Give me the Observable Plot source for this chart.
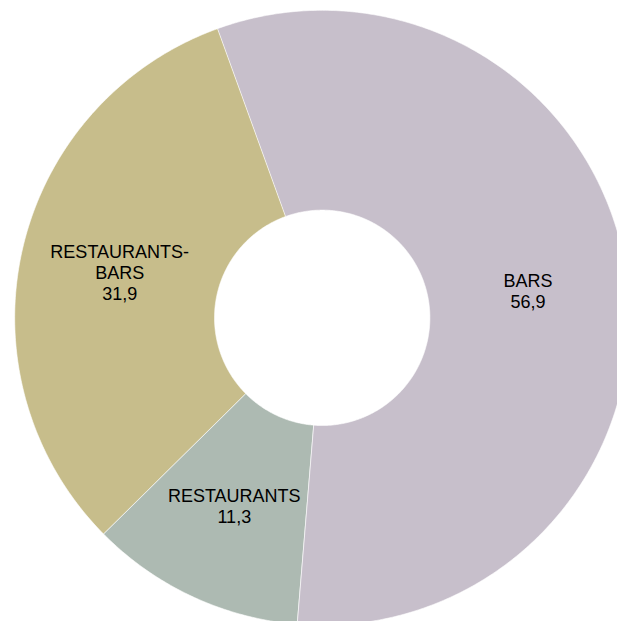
<!DOCTYPE html>
<html>
<head>
<meta charset="utf-8">
<script src="https://cdn.jsdelivr.net/npm/d3@7"></script>
<script src="https://cdn.jsdelivr.net/npm/@observablehq/plot@0.6"></script>
<style>
  html, body { margin: 0; padding: 0; background: #fff; }
  #chart svg { display: block; }
</style>
</head>
<body>
<div id="chart"></div>
<script>
// Data
const categories = ["BARS", "RESTAURANTS", "RESTAURANTS-BARS"];
const labels = ["BARS", "RESTAURANTS", "RESTAURANTS-\nBARS"];
const values = [56.9, 11.3, 31.9];
const colors = ["#c7bfcb", "#adbab2", "#c7bd8b"];

// Layout
const W = 617, H = 621;
const cx = 321.7, cy = 317.3;
const rOuter = 307.5, rInner = 107.7;
const startDeg = -19.9;

const pie = d3.pie().sort(null).value(d => d.value)
  .startAngle(startDeg * Math.PI / 180)
  .endAngle((startDeg + 360) * Math.PI / 180);
const arcs = pie(categories.map((c, i) => ({category: c, label: labels[i], value: values[i]})));

const pt = (r, a) => [cx + r * Math.sin(a), cy - r * Math.cos(a)];

const polys = [];
for (const a of arcs) {
  const n = Math.max(8, Math.ceil((a.endAngle - a.startAngle) / (Math.PI / 360)));
  for (let k = 0; k <= n; k++) {
    const t = a.startAngle + (a.endAngle - a.startAngle) * k / n;
    const [x, y] = pt(rOuter, t);
    polys.push({category: a.data.category, x, y});
  }
  for (let k = n; k >= 0; k--) {
    const t = a.startAngle + (a.endAngle - a.startAngle) * k / n;
    const [x, y] = pt(rInner, t);
    polys.push({category: a.data.category, x, y});
  }
}

const labelData = arcs.map(a => {
  const m = (a.startAngle + a.endAngle) / 2;
  const [x, y] = pt((rOuter + rInner) / 2, m);
  return {x, y, text: a.data.label + "\n" + a.data.value.toFixed(1).replace(".", ",")};
});

const chart = Plot.plot({
  width: W,
  height: H,
  margin: 0,
  x: {type: "identity", axis: null},
  y: {type: "identity", axis: null},
  color: {domain: categories, range: colors},
  style: {fontFamily: "'Liberation Sans', Arial, sans-serif", background: "#fff"},
  marks: [
    Plot.line(polys, {x: "x", y: "y", z: "category", fill: "category", stroke: "#ffffff", strokeWidth: 0.6, curve: "linear-closed"}),
    Plot.text(labelData, {x: "x", y: "y", text: "text", fontSize: 18, fill: "#000", lineAnchor: "middle", lineHeight: 1.16, textAnchor: "middle"})
  ]
});
document.getElementById("chart").append(chart);
</script>
</body>
</html>
